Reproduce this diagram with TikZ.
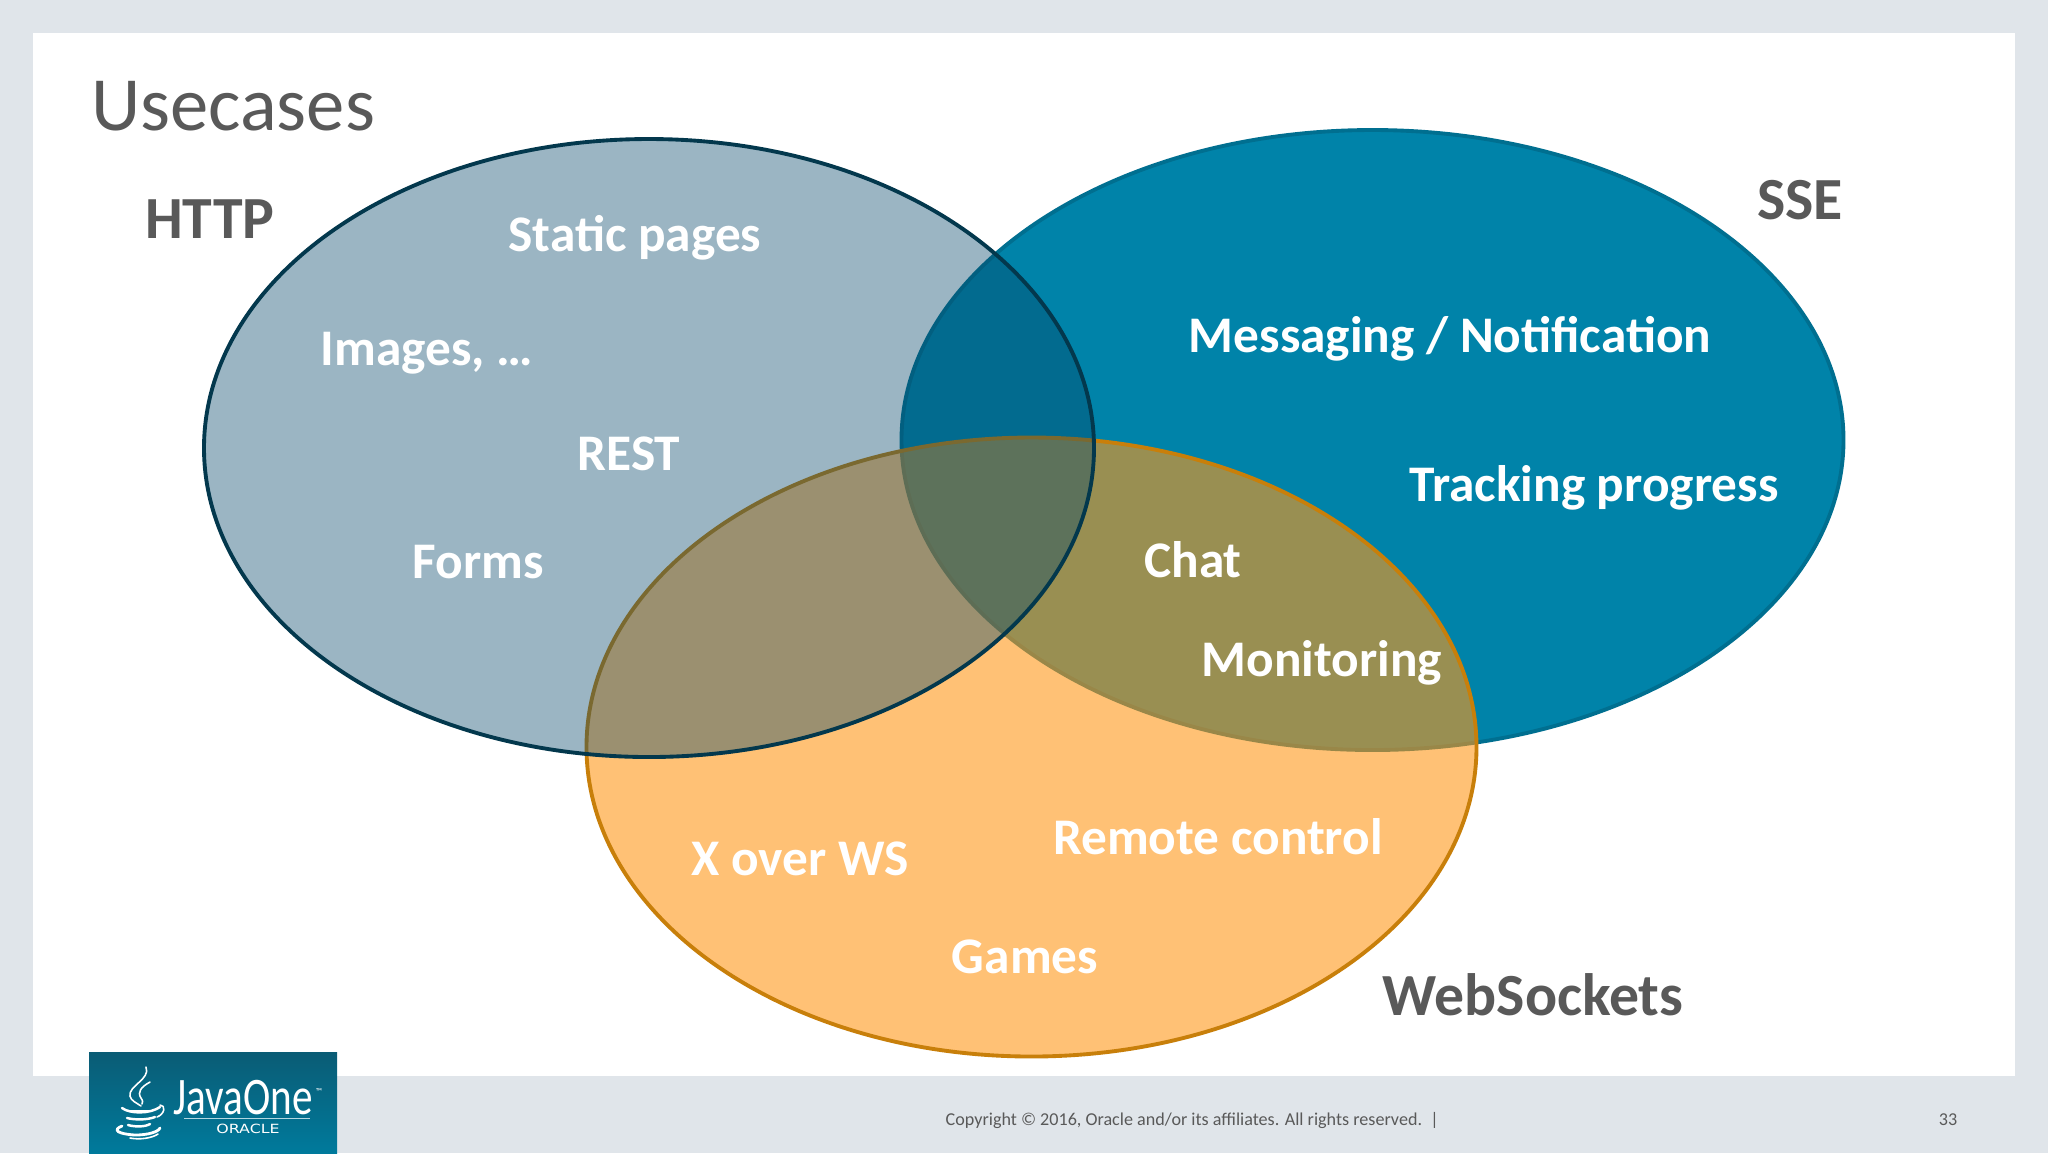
\documentclass[tikz,border=0pt]{standalone}
\usepackage{fontspec}
\setmainfont{Carlito}
\newfontfamily\oraclefont{DejaVu Sans}
\usetikzlibrary{positioning}
\definecolor{pagegrey}{HTML}{E0E5EA}
\definecolor{httpfill}{RGB}{5,72,105}
\definecolor{httpline}{HTML}{03384D}
\definecolor{ssefill}{HTML}{0083A9}
\definecolor{sseline}{HTML}{006F90}
\definecolor{wsfill}{RGB}{255,152,25}
\definecolor{wsline}{HTML}{C87F0A}
\definecolor{headgrey}{HTML}{595959}
\definecolor{logotop}{HTML}{0A5C75}
\definecolor{logobot}{HTML}{007A9C}
\begin{document}
\begin{tikzpicture}[x=0.01cm, y=-0.01cm,
    venn/.style={line width=1.1pt, draw opacity=1},
    lbl/.style={text=white, font=\fontsize{14.6}{16}\selectfont\bfseries},
    head/.style={text=headgrey, font=\fontsize{17}{18}\selectfont\bfseries},
    foot/.style={text=headgrey, font=\fontsize{5.15}{6}\selectfont},
    steam/.style={draw=white, line width=0.45pt, line cap=round}]
  \useasboundingbox (0,0) rectangle (2048,1153);
  \fill[pagegrey] (0,0) rectangle (2048,1153);
  \fill[white] (33,33) rectangle (2015,1076);
  % three sets
  \draw[venn, draw=sseline, fill=ssefill] (1372.5,440) ellipse [x radius=471, y radius=310];
  \draw[venn, draw=wsline, fill=wsfill, fill opacity=0.6] (1031.5,747) ellipse [x radius=445, y radius=309.5];
  \draw[venn, draw=httpline, fill=httpfill, fill opacity=0.4] (649,448) ellipse [x radius=445, y radius=309];
  % texts
  \node[text=headgrey, font=\fontsize{21.8}{24}\selectfont] (title) at (233,106) {Usecases};
  \node[head] (http) at (210,219) {HTTP};
  \node[head] (sse) at (1800,200) {SSE};
  \node[head] (ws) at (1533,995) {WebSockets};
  \node[lbl] (static) at (635,238) {Static pages};
  \node[lbl] (images) at (427,353) {Images, …};
  \node[lbl] (rest) at (629,454) {REST};
  \node[lbl] (forms) at (478,562) {Forms};
  \node[lbl] (msg) at (1450,339) {Messaging / Notification};
  \node[lbl] (track) at (1594,488) {Tracking progress};
  \node[lbl] (chat) at (1193,560) {Chat};
  \node[lbl] (mon) at (1322,663) {Monitoring};
  \node[lbl] (xws) at (800,859) {X over WS};
  \node[lbl] (remote) at (1218,837) {Remote control};
  \node[lbl] (games) at (1025,957) {Games};
  % footer
  \node[foot, anchor=west, inner sep=0pt] (copy) at (945,1120) {Copyright © 2016, Oracle and/or its affiliates. All rights reserved.\ \ |};
  \node[foot] (page) at (1948,1120) {33};
  % logo
  \shade[top color=logotop, bottom color=logobot] (89,1052) rectangle (337,1153);
  \draw[steam] (146,1067) .. controls (151,1079) and (128,1086) .. (130,1096) .. controls (131,1101) and (137,1103) .. (141,1106);
  \draw[steam] (150,1082) .. controls (141,1087) and (137,1092) .. (141,1098) .. controls (143,1101) and (143,1102) .. (142,1104);
  \draw[steam, line width=0.7pt] (122,1108) .. controls (130,1114) and (150,1114) .. (160,1107);
  \draw[steam, line width=0.7pt] (128,1111) -- (150,1111);
  \draw[steam, line width=0.7pt] (127,1118) .. controls (135,1120) and (147,1120) .. (155,1117);
  \draw[steam, line width=0.7pt] (128,1125) .. controls (135,1127) and (145,1127) .. (150,1124);
  \draw[steam] (160,1105) .. controls (166,1105) and (165,1114) .. (157,1117);
  \draw[steam, line width=0.8pt] (122,1126) .. controls (112,1130) and (118,1134) .. (135,1135) .. controls (148,1135) and (158,1132) .. (160,1128);
  \draw[steam] (130,1138) .. controls (140,1140) and (152,1138) .. (158,1134);
  \node[text=white, font=\fontsize{15}{16}\selectfont, inner sep=0pt, xscale=0.78] (java) at (243,1098) {JavaOne};
  \node[text=white, font=\fontsize{2.5}{3}\selectfont, inner sep=0pt] (tm) at (319,1092) {™};
  \draw[white!70!logobot, line width=0.25pt] (184,1118) -- (310,1118);
  \node[text=white, font=\oraclefont\fontsize{3.6}{4}\selectfont, inner sep=0pt, xscale=1.25] (oracle) at (248,1129) {ORACLE};
\end{tikzpicture}
\end{document}
